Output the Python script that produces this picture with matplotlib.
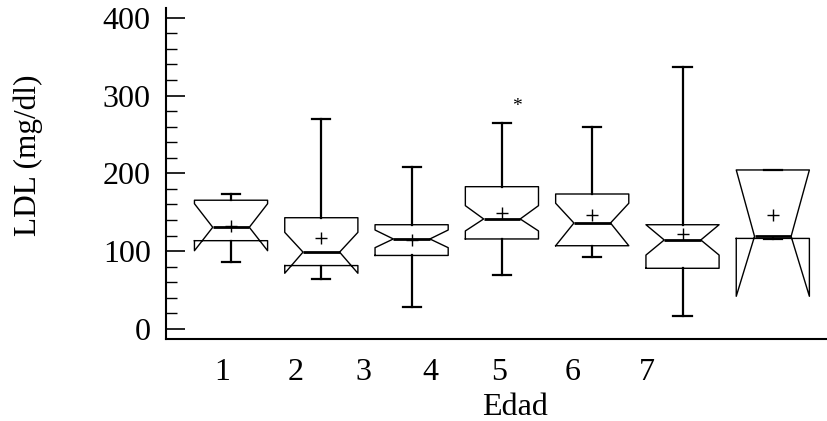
import matplotlib
matplotlib.use("Agg")
import matplotlib.pyplot as plt
from matplotlib.ticker import MultipleLocator

# Data
groups = ["1", "2", "3", "4", "5", "6", "7"]
whislo = [86, 64, 28, 69, 92, 17, 116]
q1 = [113.5, 81.5, 94.5, 115.7, 107, 78, 116.4]
cilo = [100.6, 71.6, 104.5, 126, 107, 95, 42]
med = [130.7, 98.8, 115.7, 141.4, 136.2, 114.4, 119]
cihi = [161, 124.2, 127.2, 158.5, 161.6, 134, 204.4]
q3 = [165.5, 143, 134, 182.9, 173.5, 134, 204.4]
whishi = [173.5, 269.5, 208.6, 264.8, 259.6, 337, 204.4]
means = [132.4, 117.4, 114.6, 148.7, 146.5, 121.7, 147]
outliers = [[], [], [], [293], [], [], []]

xtick_pos = [0.90, 1.72, 2.47, 3.21, 3.97, 4.78, 5.61]
xtick_labels = ["1", "2", "3", "4", "5", "6", "7"]
yticks = [0, 100, 200, 300, 400]

plt.rcParams['font.family'] = ['Liberation Serif', 'DejaVu Serif']

fig = plt.figure(figsize=(8.27, 4.21), dpi=100)
ax = fig.add_axes([166/827, (421-339)/421, 1 - 166/827, (339-8)/421])

stats = []
for i in range(len(groups)):
    stats.append(dict(label=groups[i], whislo=whislo[i], q1=q1[i], med=med[i],
                      q3=q3[i], whishi=whishi[i], cilo=cilo[i], cihi=cihi[i],
                      mean=means[i], fliers=[]))

positions = list(range(1, len(groups) + 1))
ax.bxp(stats, positions=positions, widths=0.81, capwidths=0.2,
       shownotches=True, showmeans=True, showfliers=False,
       boxprops=dict(color='black', linewidth=1.0),
       medianprops=dict(color='black', linewidth=2.0),
       whiskerprops=dict(color='black', linewidth=1.6),
       capprops=dict(color='black', linewidth=1.6),
       meanprops=dict(marker='+', markeredgecolor='black', markersize=8,
                      markeredgewidth=1.0))

for i, vals in enumerate(outliers):
    for v in vals:
        ax.annotate("*", (positions[i] + 0.17, v), xytext=(0, -4),
                    textcoords='offset points', ha='center', va='center',
                    fontsize=14)

ax.set_xlim(0.28, 7.60)
ax.set_ylim(-12.9, 412.6)

ax.spines['top'].set_visible(False)
ax.spines['right'].set_visible(False)
ax.spines['left'].set_linewidth(1.5)
ax.spines['bottom'].set_linewidth(1.5)

ax.set_yticks(yticks)
ax.set_yticklabels([str(t) for t in yticks], fontsize=23)
ax.yaxis.set_minor_locator(MultipleLocator(20))
ax.tick_params(axis='y', which='major', direction='in', length=14, width=1.2, pad=11)
ax.tick_params(axis='y', which='minor', direction='in', length=8, width=1.0)

ax.set_xticks(xtick_pos)
ax.set_xticklabels(xtick_labels, fontsize=23)
ax.tick_params(axis='x', which='both', length=0, pad=14)

ax.set_ylabel("LDL (mg/dl)", fontsize=22.5)
ax.yaxis.set_label_coords((43-166)/661, (339-155.5)/331)
ax.set_xlabel("Edad", fontsize=23)
ax.xaxis.set_label_coords((515-166)/661, (339-393)/331)
ax.xaxis.label.set_va('top')

fig.savefig("out.png", dpi=100)
